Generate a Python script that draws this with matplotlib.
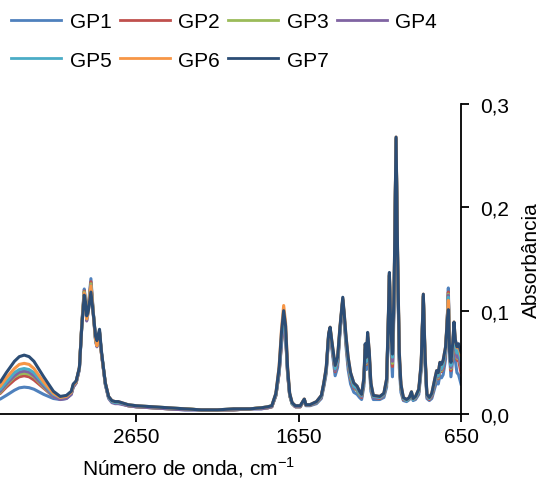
import matplotlib
matplotlib.use("Agg")
import matplotlib.pyplot as plt
from matplotlib.ticker import FuncFormatter

plt.rcParams['font.family'] = ['Liberation Sans', 'DejaVu Sans']
plt.rcParams['mathtext.fontset'] = 'custom'
plt.rcParams['mathtext.rm'] = 'Liberation Sans'

# wavenumbers (cm-1)
wn = [3550, 3487, 3450, 3400, 3370, 3340, 3310, 3280, 3220, 3160, 3118, 3080, 3050, 3038, 3020,
      3000, 2985, 2970, 2962, 2955, 2945, 2929, 2915, 2900, 2892, 2876, 2865, 2852, 2840, 2820,
      2800, 2780, 2760, 2700, 2650, 2550, 2450, 2350, 2250, 2150, 2050, 1950, 1880, 1840, 1815,
      1790, 1770, 1755, 1742, 1730, 1718, 1705, 1690, 1670, 1640,
      1615, 1605, 1580, 1540, 1510, 1495, 1480, 1465, 1456, 1445, 1425, 1410, 1395, 1378, 1368,
      1358, 1345, 1330, 1310, 1290, 1275, 1262, 1248, 1240, 1232, 1225, 1215, 1205, 1190, 1150,
      1125, 1108, 1098, 1091, 1082, 1072, 1062, 1050, 1040, 1030, 1020, 1005, 985, 968, 955,
      945, 930, 910, 895, 882, 872, 860, 845, 830, 810, 800, 790, 780, 770, 760, 745, 735,
      728, 720, 712, 700, 693, 685, 675, 665, 650]

gp1 = [0.012, 0.0145, 0.018, 0.023, 0.0253, 0.026, 0.0255, 0.024, 0.019, 0.015, 0.014, 0.015, 0.019, 0.026, 0.030,
       0.044, 0.088, 0.121, 0.110, 0.094, 0.104, 0.131, 0.100, 0.072, 0.067, 0.080, 0.061, 0.044, 0.029, 0.016,
       0.012, 0.011, 0.011, 0.008, 0.007, 0.006, 0.005, 0.004, 0.004, 0.004, 0.004, 0.005, 0.005, 0.006, 0.007,
       0.018, 0.041, 0.073, 0.093, 0.078, 0.041, 0.018, 0.010, 0.007, 0.007,
       0.0135, 0.008, 0.008, 0.010, 0.015, 0.026, 0.039, 0.074, 0.081, 0.063, 0.037, 0.045, 0.079, 0.108, 0.087,
       0.065, 0.043, 0.029, 0.021, 0.019, 0.016, 0.014, 0.027, 0.058, 0.043, 0.069, 0.049, 0.022, 0.014, 0.014,
       0.016, 0.026, 0.080, 0.131, 0.065, 0.036, 0.105, 0.264, 0.138, 0.045, 0.021, 0.013, 0.012, 0.014, 0.0185,
       0.013, 0.014, 0.019, 0.042, 0.113, 0.050, 0.015, 0.013, 0.015, 0.026, 0.031, 0.029, 0.037, 0.035, 0.038, 0.053, 0.090,
       0.122, 0.056, 0.036, 0.054, 0.083, 0.052, 0.040, 0.038, 0.029]

gp2 = [0.015, 0.020, 0.026, 0.033, 0.036, 0.037, 0.036, 0.033, 0.025, 0.017, 0.015, 0.016, 0.020, 0.027, 0.031,
       0.044, 0.087, 0.119, 0.109, 0.093, 0.102, 0.128, 0.099, 0.072, 0.067, 0.079, 0.060, 0.044, 0.029, 0.016,
       0.012, 0.011, 0.011, 0.008, 0.007, 0.006, 0.005, 0.005, 0.004, 0.004, 0.004, 0.005, 0.006, 0.006, 0.007,
       0.018, 0.040, 0.071, 0.091, 0.077, 0.040, 0.018, 0.010, 0.007, 0.007,
       0.014, 0.0085, 0.0085, 0.011, 0.016, 0.028, 0.042, 0.076, 0.082, 0.066, 0.041, 0.049, 0.082, 0.110, 0.091,
       0.069, 0.048, 0.034, 0.025, 0.023, 0.019, 0.016, 0.031, 0.062, 0.048, 0.073, 0.054, 0.026, 0.016, 0.015,
       0.018, 0.030, 0.085, 0.134, 0.072, 0.046, 0.112, 0.266, 0.143, 0.052, 0.025, 0.014, 0.013, 0.015, 0.020,
       0.014, 0.015, 0.021, 0.046, 0.114, 0.055, 0.017, 0.014, 0.017, 0.030, 0.036, 0.034, 0.043, 0.041, 0.044, 0.058, 0.090,
       0.118, 0.058, 0.042, 0.061, 0.086, 0.061, 0.052, 0.052, 0.040]

gp3 = [0.016, 0.021, 0.028, 0.036, 0.0385, 0.0395, 0.0385, 0.036, 0.026, 0.017, 0.015, 0.016, 0.020, 0.027, 0.031,
       0.044, 0.086, 0.118, 0.108, 0.092, 0.101, 0.126, 0.099, 0.071, 0.066, 0.079, 0.060, 0.044, 0.029, 0.016,
       0.012, 0.011, 0.011, 0.008, 0.007, 0.006, 0.005, 0.005, 0.004, 0.004, 0.004, 0.005, 0.006, 0.006, 0.007,
       0.018, 0.040, 0.070, 0.090, 0.076, 0.040, 0.018, 0.010, 0.007, 0.007,
       0.014, 0.0085, 0.0085, 0.011, 0.017, 0.028, 0.042, 0.076, 0.083, 0.067, 0.042, 0.050, 0.082, 0.111, 0.091,
       0.070, 0.050, 0.035, 0.026, 0.023, 0.019, 0.017, 0.031, 0.063, 0.049, 0.074, 0.055, 0.026, 0.016, 0.016,
       0.018, 0.030, 0.086, 0.134, 0.073, 0.049, 0.113, 0.266, 0.144, 0.053, 0.025, 0.015, 0.013, 0.015, 0.020,
       0.014, 0.016, 0.022, 0.046, 0.114, 0.056, 0.017, 0.015, 0.018, 0.031, 0.037, 0.035, 0.044, 0.042, 0.046, 0.060, 0.090,
       0.116, 0.058, 0.044, 0.063, 0.087, 0.063, 0.054, 0.055, 0.046]

gp4 = [0.017, 0.022, 0.029, 0.037, 0.0405, 0.0415, 0.0405, 0.037, 0.027, 0.017, 0.014, 0.015, 0.019, 0.026, 0.030,
       0.043, 0.085, 0.116, 0.106, 0.090, 0.099, 0.124, 0.097, 0.070, 0.065, 0.078, 0.059, 0.043, 0.028, 0.015,
       0.011, 0.010, 0.010, 0.008, 0.007, 0.006, 0.005, 0.004, 0.004, 0.004, 0.004, 0.005, 0.005, 0.006, 0.007,
       0.018, 0.039, 0.068, 0.088, 0.074, 0.039, 0.018, 0.010, 0.007, 0.007,
       0.014, 0.0085, 0.0085, 0.011, 0.017, 0.028, 0.042, 0.075, 0.081, 0.066, 0.042, 0.050, 0.081, 0.110, 0.091,
       0.071, 0.050, 0.036, 0.026, 0.024, 0.020, 0.017, 0.032, 0.063, 0.050, 0.073, 0.056, 0.027, 0.016, 0.016,
       0.018, 0.031, 0.086, 0.134, 0.074, 0.051, 0.114, 0.266, 0.145, 0.054, 0.026, 0.015, 0.013, 0.015, 0.020,
       0.014, 0.016, 0.022, 0.047, 0.114, 0.056, 0.017, 0.015, 0.018, 0.031, 0.037, 0.036, 0.045, 0.043, 0.046, 0.060, 0.090,
       0.115, 0.058, 0.045, 0.064, 0.087, 0.064, 0.055, 0.056, 0.047]

gp5 = [0.019, 0.024, 0.031, 0.040, 0.043, 0.044, 0.043, 0.040, 0.029, 0.019, 0.016, 0.017, 0.021, 0.028, 0.031,
       0.044, 0.086, 0.117, 0.108, 0.092, 0.100, 0.124, 0.098, 0.071, 0.066, 0.079, 0.060, 0.044, 0.029, 0.016,
       0.012, 0.011, 0.011, 0.009, 0.008, 0.007, 0.006, 0.005, 0.004, 0.004, 0.005, 0.005, 0.006, 0.007, 0.008,
       0.019, 0.042, 0.075, 0.095, 0.080, 0.042, 0.019, 0.010, 0.008, 0.008,
       0.014, 0.009, 0.009, 0.0115, 0.017, 0.029, 0.043, 0.077, 0.083, 0.068, 0.044, 0.052, 0.083, 0.111, 0.093,
       0.072, 0.051, 0.037, 0.027, 0.025, 0.020, 0.018, 0.033, 0.065, 0.051, 0.075, 0.057, 0.028, 0.017, 0.016,
       0.019, 0.032, 0.087, 0.135, 0.076, 0.055, 0.116, 0.267, 0.146, 0.056, 0.027, 0.015, 0.013, 0.015, 0.021,
       0.014, 0.016, 0.022, 0.048, 0.115, 0.057, 0.018, 0.015, 0.019, 0.032, 0.039, 0.037, 0.046, 0.044, 0.048, 0.062, 0.090,
       0.113, 0.059, 0.047, 0.066, 0.088, 0.067, 0.059, 0.061, 0.052]

gp6 = [0.021, 0.027, 0.035, 0.044, 0.048, 0.049, 0.048, 0.044, 0.031, 0.020, 0.016, 0.017, 0.021, 0.028, 0.031,
       0.045, 0.086, 0.117, 0.108, 0.092, 0.100, 0.124, 0.098, 0.072, 0.066, 0.080, 0.060, 0.044, 0.030, 0.017,
       0.013, 0.012, 0.012, 0.009, 0.008, 0.007, 0.006, 0.005, 0.004, 0.004, 0.005, 0.005, 0.006, 0.007, 0.008,
       0.020, 0.046, 0.083, 0.105, 0.088, 0.046, 0.020, 0.011, 0.008, 0.008,
       0.0145, 0.009, 0.009, 0.012, 0.018, 0.030, 0.045, 0.078, 0.084, 0.070, 0.047, 0.055, 0.085, 0.112, 0.095,
       0.075, 0.055, 0.040, 0.030, 0.027, 0.022, 0.019, 0.035, 0.067, 0.055, 0.078, 0.061, 0.030, 0.018, 0.017,
       0.020, 0.034, 0.089, 0.136, 0.081, 0.061, 0.120, 0.268, 0.150, 0.061, 0.029, 0.016, 0.014, 0.016, 0.0215,
       0.015, 0.017, 0.024, 0.050, 0.116, 0.061, 0.019, 0.016, 0.020, 0.035, 0.042, 0.040, 0.050, 0.048, 0.052, 0.065, 0.091,
       0.110, 0.062, 0.051, 0.070, 0.089, 0.072, 0.064, 0.066, 0.057]

gp7 = [0.024, 0.031, 0.040, 0.051, 0.0555, 0.057, 0.0555, 0.051, 0.036, 0.022, 0.017, 0.018, 0.022, 0.029, 0.032,
       0.045, 0.085, 0.115, 0.108, 0.095, 0.100, 0.118, 0.098, 0.075, 0.071, 0.082, 0.062, 0.045, 0.030, 0.017,
       0.013, 0.012, 0.012, 0.009, 0.008, 0.007, 0.006, 0.005, 0.004, 0.004, 0.005, 0.005, 0.006, 0.007, 0.008,
       0.020, 0.045, 0.080, 0.100, 0.085, 0.045, 0.020, 0.011, 0.008, 0.008,
       0.0145, 0.009, 0.009, 0.012, 0.018, 0.030, 0.045, 0.078, 0.084, 0.070, 0.047, 0.055, 0.085, 0.113, 0.095,
       0.075, 0.055, 0.040, 0.030, 0.027, 0.022, 0.019, 0.035, 0.068, 0.055, 0.079, 0.061, 0.030, 0.018, 0.017,
       0.020, 0.034, 0.090, 0.137, 0.080, 0.058, 0.120, 0.268, 0.150, 0.060, 0.029, 0.016, 0.014, 0.016, 0.0215,
       0.015, 0.017, 0.024, 0.050, 0.116, 0.060, 0.019, 0.016, 0.020, 0.035, 0.042, 0.040, 0.050, 0.048, 0.052, 0.065, 0.090,
       0.101, 0.060, 0.050, 0.070, 0.089, 0.072, 0.065, 0.068, 0.060]

names = ["GP1", "GP2", "GP3", "GP4", "GP5", "GP6", "GP7"]
series = [gp1, gp2, gp3, gp4, gp5, gp6, gp7]
colors = ["#4F81BD", "#C0504D", "#9BBB59", "#8064A2", "#4BACC6", "#F79646", "#2C4D75"]

fig = plt.figure(figsize=(5.41, 4.85), dpi=100)
# the original chart is cropped on the left, so the axes starts off-figure
ax = fig.add_axes([-83 / 541, 1 - 415 / 485, 544 / 541, 310 / 485])

lines = {}
for n, s, c in zip(names, series, colors):
    lines[n], = ax.plot(wn, s, color=c, lw=2.2, label=n, solid_joinstyle='round')

ax.set_xlim(4000, 650)
ax.set_ylim(0, 0.3)
ax.set_xticks([2650, 1650, 650])
ax.set_yticks([0, 0.1, 0.2, 0.3])
ax.yaxis.set_major_formatter(FuncFormatter(lambda v, p: f"{v:.1f}".replace(".", ",")))
ax.yaxis.tick_right()
ax.yaxis.set_label_position("right")
ax.spines['top'].set_visible(False)
ax.spines['left'].set_visible(False)
ax.spines['right'].set_linewidth(1.3)
ax.spines['bottom'].set_linewidth(1.3)
ax.tick_params(axis='both', labelsize=15, length=6, width=1.3, direction='out')
ax.tick_params(axis='y', pad=8)
ax.set_ylabel("Absorbância", fontsize=15, labelpad=9)
ax.set_xlabel("Número de onda, cm$^{-1}$", fontsize=15, labelpad=6)

# legend filled column-wise, so reorder for row-wise reading
order = ["GP1", "GP5", "GP2", "GP6", "GP3", "GP7", "GP4"]
leg = fig.legend([lines[o] for o in order], order, loc='upper left',
                 bbox_to_anchor=(0.002, 0.995), ncol=4, frameon=False, fontsize=15,
                 handlelength=2.4, handletextpad=0.4, columnspacing=0.4,
                 labelspacing=0.95, borderaxespad=0.2, borderpad=0.3)
for h in leg.get_lines():
    h.set_linewidth(2.0)

fig.savefig("out.png", dpi=100)
